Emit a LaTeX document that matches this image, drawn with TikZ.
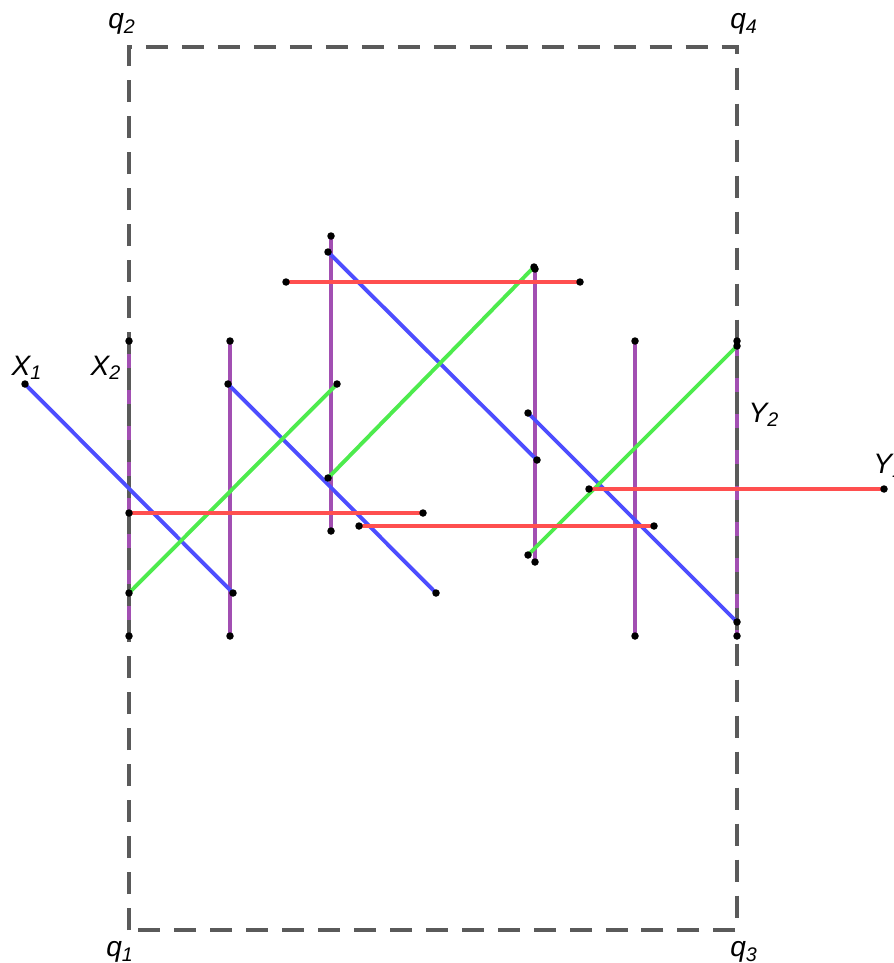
\documentclass[tikz,border=0pt]{standalone}
\usepackage{fontspec}
\setmainfont{Liberation Sans}
\usepackage{xcolor}
\usepackage{tikz}
\definecolor{segblue}{HTML}{4D4DFF}
\definecolor{segred}{HTML}{FF4F4F}
\definecolor{seggreen}{HTML}{4DEB4D}
\definecolor{segpurple}{HTML}{A24FB2}
\definecolor{framegray}{HTML}{5A5A5A}

\begin{document}
\begin{tikzpicture}[x=0.02cm,y=-0.02cm,
  seg/.style={line width=2.2pt},
  frameline/.style={framegray,line width=2pt,dash pattern=on 0.44cm off 0.28cm},
  dot/.style={circle,fill=black,inner sep=0pt,minimum size=0.15cm},
  lab/.style={inner sep=0pt,font=\fontsize{16}{18}\selectfont\itshape}]
 \useasboundingbox (0,0) rectangle (893,963);
 % purple verticals
 \foreach \n/\x/\ya/\yb in {v1/129/341/636,v2/230/341/636,v3/331/236/531,
   v4/535/269/562,v5/635/341/636,v6/737/341/636} {
  \coordinate (\n a) at (\x,\ya);
  \coordinate (\n b) at (\x,\yb);
  \draw[seg,segpurple] (\n a) -- (\n b);}
 % frame
 \coordinate (c1) at (129,930);
 \coordinate (c2) at (129,47);
 \coordinate (c3) at (737,930);
 \coordinate (c4) at (737,47);
 \draw[frameline] (c1) -- (c2) -- (c4) -- (c3) -- cycle;
 \node[lab] (q1) at (120,952) {q\textsubscript{1}};
 \node[lab] (q2) at (122,24) {q\textsubscript{2}};
 \node[lab] (q3) at (744,952) {q\textsubscript{3}};
 \node[lab] (q4) at (744,24) {q\textsubscript{4}};
 % blue
 \foreach \n/\xa/\ya/\xb/\yb in {b1/25/384/233/593,b2/228/384/436/593,
   b3/328/252/537/460,b4/528/413/737/622} {
  \coordinate (\n a) at (\xa,\ya);
  \coordinate (\n b) at (\xb,\yb);
  \draw[seg,segblue] (\n a) -- (\n b);}
 % green
 \foreach \n/\xa/\ya/\xb/\yb in {g1/129/593/337/384,g2/328/478/534/267,
   g3/528/555/737/346} {
  \coordinate (\n a) at (\xa,\ya);
  \coordinate (\n b) at (\xb,\yb);
  \draw[seg,seggreen] (\n a) -- (\n b);}
 % red
 \foreach \n/\xa/\ya/\xb/\yb in {r1/286/282/580/282,r2/129/513/423/513,
   r3/359/526/654/526,r4/589/489/884/489} {
  \coordinate (\n a) at (\xa,\ya);
  \coordinate (\n b) at (\xb,\yb);
  \draw[seg,segred] (\n a) -- (\n b);}
 % end points
 \foreach \n in {v1,v2,v3,v4,v5,v6,b1,b2,b3,b4,g1,g2,g3,r1,r2,r3,r4} {
  \node[dot] at (\n a) {};
  \node[dot] at (\n b) {};}
 \node[lab] (X1) at (27,368) {X\textsubscript{1}};
 \node[lab] (X2) at (106,368) {X\textsubscript{2}};
 \node[lab] (Y2) at (764,415) {Y\textsubscript{2}};
 \node[lab,anchor=west] (Y1) at (873,466) {Y\textsubscript{1}};
\end{tikzpicture}
\end{document}
